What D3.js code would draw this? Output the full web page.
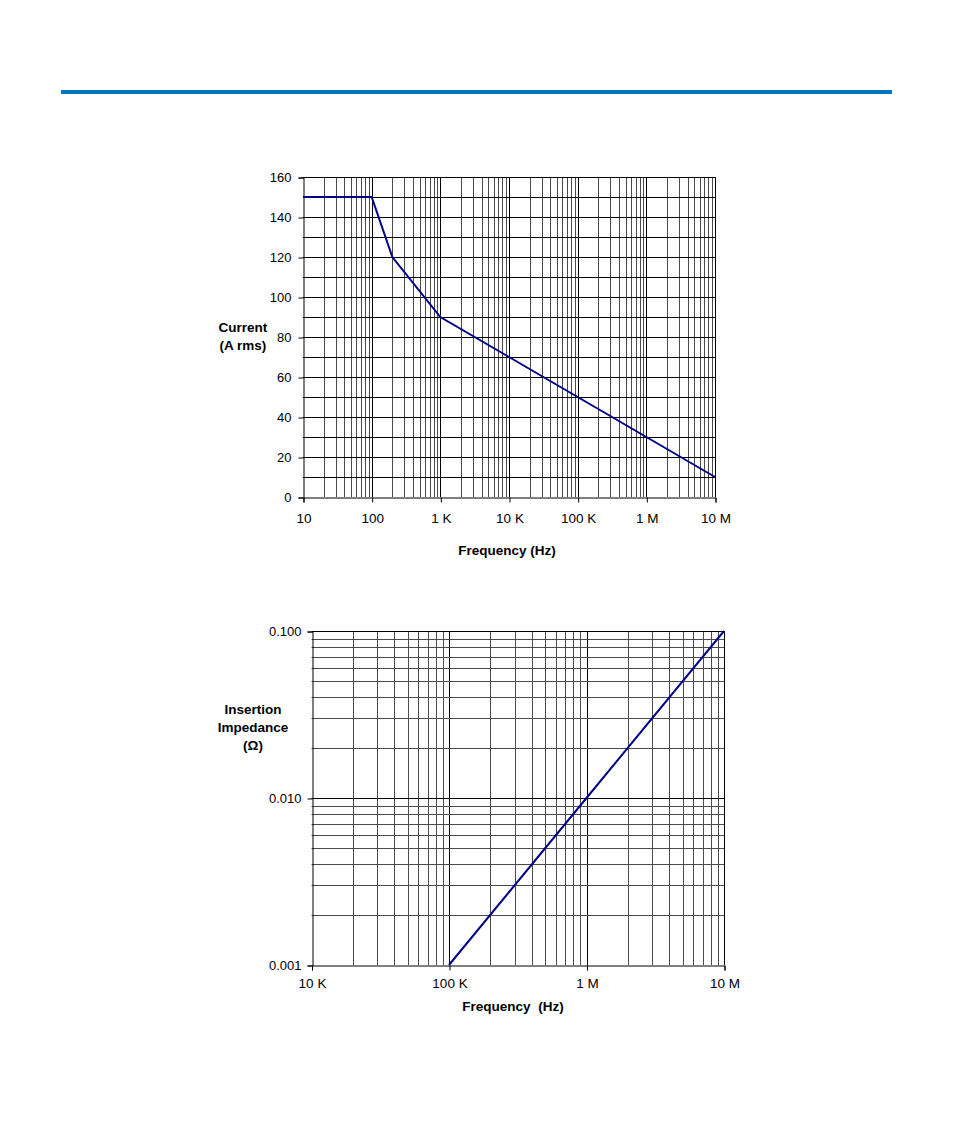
<!DOCTYPE html>
<html><head><meta charset="utf-8">
<script src="https://cdn.jsdelivr.net/npm/d3@7"></script>
<style>
html,body{margin:0;padding:0;background:#fff;}
svg{display:block;font-family:"Liberation Sans",Arial,sans-serif;}
</style></head>
<body>
<svg id="c" width="954" height="1145"></svg>
<script>
// Chart 1: current derating vs frequency
const currentFreq = [10, 100, 200, 1000, 10000, 100000, 1000000, 10000000];
const currentVals = [150, 150, 120, 90, 70, 50, 30, 10];
const currentYTicks = [0, 20, 40, 60, 80, 100, 120, 140, 160];
const currentXTicks = [10, 100, 1e3, 1e4, 1e5, 1e6, 1e7];
const currentXLabels = ["10", "100", "1 K", "10 K", "100 K", "1 M", "10 M"];

// Chart 2: insertion impedance vs frequency
const impFreq = [100000, 1000000, 10000000];
const impVals = [0.001, 0.01, 0.1];
const impYTicks = [0.001, 0.01, 0.1];
const impYLabels = ["0.001", "0.010", "0.100"];
const impXTicks = [1e4, 1e5, 1e6, 1e7];
const impXLabels = ["10 K", "100 K", "1 M", "10 M"];

const svg = d3.select("#c");
const lineColor = "#00008b";

// header rule
svg.append("rect").attr("x", 61).attr("y", 90).attr("width", 831).attr("height", 4).attr("fill", "#0075c0");

function minorLogs(lo, hi) {
  const out = [];
  for (let d = lo; d < hi; d *= 10) for (let m = 1; m <= 9; m++) { if (d * m > lo && d * m < hi) out.push(d * m); }
  return out;
}
const isDecade = d => Math.abs(Math.log10(d) - Math.round(Math.log10(d))) < 1e-9;

function styleAxis(a, size) {
  a.select(".domain").attr("stroke", "#000");
  a.selectAll(".tick line").attr("stroke", "#000");
  a.selectAll("text").attr("font-family", "Liberation Sans, Arial, sans-serif").attr("font-size", size).attr("fill", "#000");
}

// ---------- Chart 1 ----------
{
  const x = d3.scaleLog().domain([10, 1e7]).range([303, 715]);
  const y = d3.scaleLinear().domain([0, 160]).range([497, 177]);
  const g = svg.append("g");
  const vlines = minorLogs(10, 1e7).concat([1e7]);
  g.selectAll("line.v").data(vlines).join("line")
    .attr("x1", d => Math.round(x(d)) + 0.5).attr("x2", d => Math.round(x(d)) + 0.5)
    .attr("y1", y(160)).attr("y2", y(0))
    .attr("stroke", d => isDecade(d) ? "#000" : "#4a4a4a")
    .attr("stroke-width", 1);
  g.selectAll("line.h").data(d3.range(10, 161, 10)).join("line")
    .attr("x1", x(10)).attr("x2", x(1e7))
    .attr("y1", d => Math.round(y(d)) + 0.5).attr("y2", d => Math.round(y(d)) + 0.5)
    .attr("stroke", "#000").attr("stroke-width", 1);
  const yAx = d3.axisLeft(y).tickValues(currentYTicks).tickSize(5).tickPadding(7).tickFormat(d3.format("d"));
  const gy = g.append("g").attr("transform", `translate(${x(10) + 0.5},0.5)`).call(yAx);
  const xAx = d3.axisBottom(x).tickValues(currentXTicks).tickSize(5).tickPadding(11)
    .tickFormat((d, i) => currentXLabels[i]);
  const gx = g.append("g").attr("transform", `translate(0.5,${y(0) + 0.5})`).call(xAx);
  styleAxis(gy, 13);
  styleAxis(gx, 13.5);
  const ln = d3.line().x((d, i) => x(currentFreq[i])).y(d => y(d));
  g.append("path").attr("d", ln(currentVals)).attr("fill", "none").attr("stroke", lineColor).attr("stroke-width", 2);
  g.append("text").attr("x", 507).attr("y", 555).attr("text-anchor", "middle").attr("font-weight", "bold").attr("font-size", 13.5).text("Frequency (Hz)");
  const yt = g.append("text").attr("text-anchor", "middle").attr("font-weight", "bold").attr("font-size", 13.5);
  yt.append("tspan").attr("x", 243).attr("y", 332).text("Current");
  yt.append("tspan").attr("x", 243).attr("y", 350).text("(A rms)");
}

// ---------- Chart 2 ----------
{
  const x = d3.scaleLog().domain([1e4, 1e7]).range([311.5, 724]);
  const y = d3.scaleLog().domain([0.001, 0.1]).range([965, 631]);
  const g = svg.append("g");
  const vlines = minorLogs(1e4, 1e7).concat([1e7]);
  g.selectAll("line.v").data(vlines).join("line")
    .attr("x1", d => Math.round(x(d)) + 0.5).attr("x2", d => Math.round(x(d)) + 0.5)
    .attr("y1", y(0.1)).attr("y2", y(0.001))
    .attr("stroke", d => isDecade(d) ? "#000" : "#4a4a4a")
    .attr("stroke-width", 1);
  const hlines = minorLogs(0.001, 0.1).concat([0.1]);
  g.selectAll("line.h").data(hlines).join("line")
    .attr("x1", x(1e4)).attr("x2", x(1e7))
    .attr("y1", d => Math.round(y(d)) + 0.5).attr("y2", d => Math.round(y(d)) + 0.5)
    .attr("stroke", d => isDecade(d) ? "#000" : "#4a4a4a")
    .attr("stroke-width", 1);
  const yAx = d3.axisLeft(y).tickValues(impYTicks).tickSize(5).tickPadding(6).tickFormat((d, i) => impYLabels[i]);
  const gy = g.append("g").attr("transform", `translate(${Math.round(x(1e4)) + 0.5},0.5)`).call(yAx);
  const xAx = d3.axisBottom(x).tickValues(impXTicks).tickSize(5).tickPadding(8).tickFormat((d, i) => impXLabels[i]);
  const gx = g.append("g").attr("transform", `translate(0.5,${Math.round(y(0.001)) + 0.5})`).call(xAx);
  styleAxis(gy, 13);
  styleAxis(gx, 13.5);
  const ln = d3.line().x((d, i) => x(impFreq[i])).y(d => y(d));
  g.append("path").attr("d", ln(impVals)).attr("fill", "none").attr("stroke", lineColor).attr("stroke-width", 2);
  g.append("text").attr("x", 513).attr("y", 1011).attr("text-anchor", "middle").attr("font-weight", "bold").attr("font-size", 13.5)
    .style("white-space", "pre").text("Frequency  (Hz)");
  const yt = g.append("text").attr("text-anchor", "middle").attr("font-weight", "bold").attr("font-size", 13.5);
  yt.append("tspan").attr("x", 253).attr("y", 714).text("Insertion");
  yt.append("tspan").attr("x", 253).attr("y", 732).text("Impedance");
  yt.append("tspan").attr("x", 253).attr("y", 750).text("(Ω)");
}
</script>
</body></html>
